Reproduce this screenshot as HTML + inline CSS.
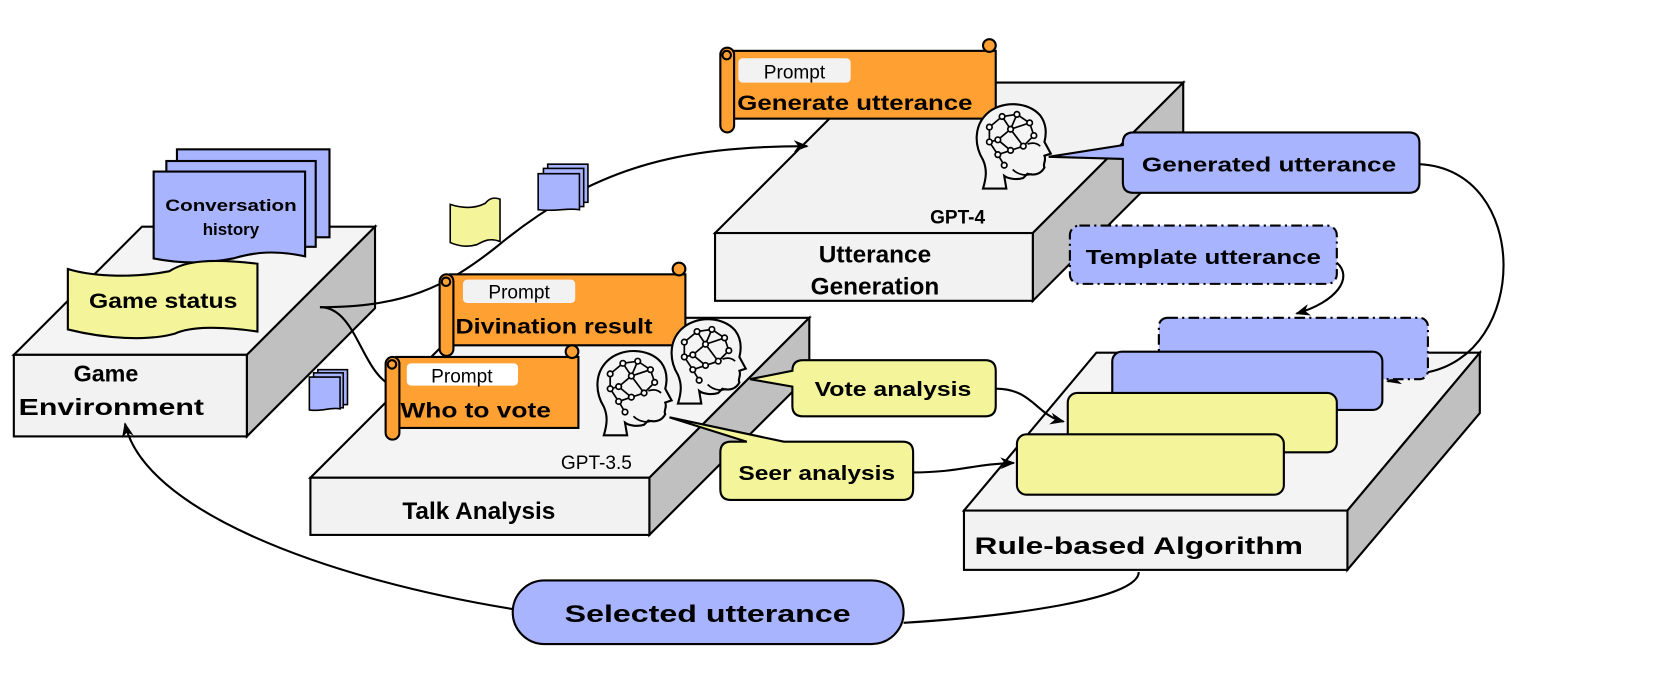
<!DOCTYPE html>
<html><head><meta charset="utf-8"><style>
html,body{margin:0;padding:0;background:#fff;}
svg{display:block;}
text{font-family:"Liberation Sans","DejaVu Sans",sans-serif;font-weight:bold;fill:#000;}
</style></head><body>
<svg width="1661" height="692" viewBox="0 0 1568 653.3" xmlns="http://www.w3.org/2000/svg">
<defs>
<marker id="ar" viewBox="0 0 10 10" refX="9" refY="5" markerWidth="14" markerHeight="14" orient="auto-start-reverse" markerUnits="userSpaceOnUse">
<path d="M0,1 L10,5 L0,9 L3,5 Z" fill="#000"/></marker>
<g id="head">
<path d="M8,80 C11,70 12,62 8,53 C0,40 -1,22 11,10 C24,-3 50,-3 62,11 C68,19 68,28 66,36 L72,47 L66,49 C68,54 64,57 66,60 C63,66 57,68 50,66 L46,70 C40,72 32,71 28,68 L30,80 Z" fill="#f4f4f4" stroke="#000" stroke-width="2"/>
<g stroke="#000" stroke-width="1.6" fill="#fff">
<path d="M14,22 L26,12 L40,10 L52,18 L56,30 L46,40 L34,44 L22,48 L14,36 Z M26,12 L34,24 L52,18 M34,24 L46,40 M34,24 L22,34 L14,36 M22,34 L34,44 M40,10 L34,24 M22,48 L28,58" fill="none"/>
<circle cx="14" cy="22" r="2.6"/><circle cx="26" cy="12" r="2.6"/><circle cx="40" cy="10" r="2.6"/><circle cx="52" cy="18" r="2.6"/><circle cx="56" cy="30" r="2.6"/><circle cx="46" cy="40" r="2.6"/><circle cx="34" cy="44" r="2.6"/><circle cx="22" cy="48" r="2.6"/><circle cx="14" cy="36" r="2.6"/><circle cx="34" cy="24" r="2.6"/><circle cx="22" cy="34" r="2.6"/><circle cx="28" cy="58" r="2.6"/>
</g>
<path d="M50,38 C56,36 60,38 62,40 M36,62 C42,68 50,68 54,66" fill="none" stroke="#000" stroke-width="1.6"/>
</g>
</defs>

<!-- Game Environment slab -->
<polygon points="134,214 354,214 233,335 13,335" fill="#f4f4f4" stroke="#000" stroke-width="2"/>
<polygon points="233,335 354,214 354,291 233,412" fill="#c0c0c0" stroke="#000" stroke-width="2"/>
<rect x="13" y="335" width="220" height="77" fill="#f2f2f2" stroke="#000" stroke-width="2"/>
<text x="100" y="360" font-size="22" text-anchor="middle">Game</text>
<text x="105" y="392" font-size="22" text-anchor="middle" textLength="175" lengthAdjust="spacingAndGlyphs">Environment</text>

<!-- Conversation history pages -->
<rect x="167" y="141" width="144" height="83" fill="#a9b4fe" stroke="#000" stroke-width="2"/>
<rect x="157" y="152" width="141" height="81" fill="#a9b4fe" stroke="#000" stroke-width="2"/>
<path d="M145,162 H288 V242 C260,236 240,238 220,244 C190,250 165,248 145,244 Z" fill="#a9b4fe" stroke="#000" stroke-width="2"/>
<text x="218" y="199" font-size="16" text-anchor="middle" textLength="124" lengthAdjust="spacingAndGlyphs">Conversation</text>
<text x="218" y="222" font-size="16" text-anchor="middle">history</text>
<!-- Game status -->
<path d="M64,254 C90,262 130,262 160,256 C175,246 200,244 243,249 V313 C210,308 180,308 165,315 C140,322 100,320 64,311 Z" fill="#f4f49a" stroke="#000" stroke-width="2"/>
<text x="154" y="291" font-size="20" text-anchor="middle" textLength="140" lengthAdjust="spacingAndGlyphs">Game status</text>

<!-- Utterance Generation slab -->
<polygon points="817,78 1117,78 975,220 675,220" fill="#f2f2f2" stroke="#000" stroke-width="2"/>
<polygon points="975,220 1117,78 1117,142 975,284" fill="#c0c0c0" stroke="#000" stroke-width="2"/>
<rect x="675" y="220" width="300" height="64" fill="#f2f2f2" stroke="#000" stroke-width="2"/>
<text x="826" y="248" font-size="23" text-anchor="middle">Utterance</text>
<text x="826" y="278" font-size="23" text-anchor="middle">Generation</text>
<text x="904" y="211" font-size="18" text-anchor="middle">GPT-4</text>

<!-- Talk Analysis slab -->
<polygon points="444,300 764,300 613,451 293,451" fill="#f4f4f4" stroke="#000" stroke-width="2"/>
<polygon points="613,451 764,300 764,354 613,505" fill="#c0c0c0" stroke="#000" stroke-width="2"/>
<rect x="293" y="451" width="320" height="54" fill="#f2f2f2" stroke="#000" stroke-width="2"/>
<text x="452" y="490" font-size="23" text-anchor="middle">Talk Analysis</text>
<text x="563" y="443" font-size="18" text-anchor="middle" style="font-weight:normal">GPT-3.5</text>

<!-- Rule-based slab -->
<polygon points="1035,333 1397,333 1272,482 910,482" fill="#f4f4f4" stroke="#000" stroke-width="2"/>
<polygon points="1272,482 1397,333 1397,390 1272,538" fill="#c0c0c0" stroke="#000" stroke-width="2"/>
<rect x="910" y="482" width="362" height="56" fill="#f2f2f2" stroke="#000" stroke-width="2"/>
<text x="1075" y="523" font-size="23" text-anchor="middle" textLength="310" lengthAdjust="spacingAndGlyphs">Rule-based Algorithm</text>

<!-- connectors behind -->
<g fill="none" stroke="#000" stroke-width="2">
<path d="M302,290 C380,290 420,272 470,232 C560,158 640,138 762,138" marker-end="url(#ar)"/>
<path d="M302,290 C335,290 340,345 366,362"/>
<path d="M484,575 C300,545 135,480 118,400" marker-end="url(#ar)"/>
<path d="M853,588 C950,582 1075,566 1075,540"/>
<path d="M1340,155 C1445,160 1445,335 1345,352 L1310,360" marker-end="url(#ar)"/>
<path d="M1262,248 C1278,262 1262,285 1224,296" marker-end="url(#ar)"/>
<path d="M940,367 C975,367 978,392 1004,398" marker-end="url(#ar)"/>
<path d="M862,446 C905,446 920,438 957,437" marker-end="url(#ar)"/>
</g>

<!-- Rule stacked boxes -->
<rect x="1094" y="300" width="254" height="58" rx="8" fill="#a9b4fe" stroke="#000" stroke-width="2" stroke-dasharray="10,4,2,4"/>
<rect x="1050" y="332" width="255" height="55" rx="9" fill="#a9b4fe" stroke="#000" stroke-width="2"/>
<rect x="1008" y="371" width="254" height="56" rx="9" fill="#f4f49a" stroke="#000" stroke-width="2"/>
<rect x="960" y="410" width="252" height="57" rx="9" fill="#f4f49a" stroke="#000" stroke-width="2"/>

<!-- small icons -->
<path d="M425,193 C440,198 450,196 458,192 C462,187 466,186 472,188 V228 C462,224 456,228 450,231 C440,234 432,232 425,229 Z" fill="#f4f49a" stroke="#000" stroke-width="1.5"/>
<rect x="517" y="155" width="38" height="36" fill="#a9b4fe" stroke="#000" stroke-width="1.5"/>
<rect x="513" y="159" width="38" height="36" fill="#a9b4fe" stroke="#000" stroke-width="1.5"/>
<path d="M508,164 H547 V198 C535,196 525,200 508,198 Z" fill="#a9b4fe" stroke="#000" stroke-width="1.5"/>
<rect x="300" y="349" width="28" height="33" fill="#a9b4fe" stroke="#000" stroke-width="1.5"/>
<rect x="296" y="352" width="28" height="33" fill="#a9b4fe" stroke="#000" stroke-width="1.5"/>
<path d="M292,356 H321 V386 C312,384 304,389 292,387 Z" fill="#a9b4fe" stroke="#000" stroke-width="1.5"/>

<!-- Scrolls -->
<g stroke="#000" stroke-width="2">
<rect x="690" y="48" width="250" height="64" fill="#ffa033"/>
<circle cx="934" cy="43" r="6" fill="#ffa033"/>
<rect x="680" y="45" width="13" height="80" rx="6.5" fill="#ffa033"/>
<circle cx="686" cy="52" r="4" fill="#ffa033"/>
<rect x="697" y="55" width="106" height="23" rx="4" fill="#f2f2f2" stroke="none"/>

<rect x="425" y="259" width="222" height="67" fill="#ffa033"/>
<circle cx="641" cy="254" r="6" fill="#ffa033"/>
<rect x="415" y="259" width="13" height="77" rx="6.5" fill="#ffa033"/>
<circle cx="421" cy="266" r="4" fill="#ffa033"/>
<rect x="437" y="264" width="106" height="22" rx="4" fill="#f2f2f2" stroke="none"/>

<rect x="374" y="337" width="172" height="67" fill="#ffa033"/>
<circle cx="540" cy="332" r="6" fill="#ffa033"/>
<rect x="364" y="337" width="13" height="78" rx="6.5" fill="#ffa033"/>
<circle cx="370" cy="344" r="4" fill="#ffa033"/>
<rect x="384" y="343" width="105" height="21" rx="4" fill="#fff" stroke="none"/>
</g>
<text x="750" y="74" font-size="18" text-anchor="middle" style="font-weight:normal">Prompt</text>
<text x="807" y="104" font-size="20" text-anchor="middle" textLength="222" lengthAdjust="spacingAndGlyphs">Generate utterance</text>
<text x="490" y="282" font-size="18" text-anchor="middle" style="font-weight:normal">Prompt</text>
<text x="523" y="315" font-size="20" text-anchor="middle" textLength="186" lengthAdjust="spacingAndGlyphs">Divination result</text>
<text x="436" y="361" font-size="18" text-anchor="middle" style="font-weight:normal">Prompt</text>
<text x="449" y="394" font-size="20" text-anchor="middle" textLength="142" lengthAdjust="spacingAndGlyphs">Who to vote</text>

<!-- Heads -->
<use href="#head" x="632" y="301"/>
<use href="#head" x="562" y="331"/>
<use href="#head" x="920" y="98"/>

<!-- Callouts -->
<path d="M1070,125 H1330 Q1340,125 1340,135 V172 Q1340,182 1330,182 H1070 Q1060,182 1060,172 V150 L990,148 L1060,137 V135 Q1060,125 1070,125 Z" fill="#a9b4fe" stroke="#000" stroke-width="2"/>
<text x="1198" y="162" font-size="19" text-anchor="middle" textLength="240" lengthAdjust="spacingAndGlyphs">Generated utterance</text>

<rect x="1010" y="213" width="252" height="55" rx="9" fill="#a9b4fe" stroke="#000" stroke-width="2" stroke-dasharray="10,4,2,4"/>
<text x="1136" y="249" font-size="19" text-anchor="middle" textLength="222" lengthAdjust="spacingAndGlyphs">Template utterance</text>

<path d="M758,340 H930 Q940,340 940,350 V383 Q940,393 930,393 H758 Q748,393 748,383 V365 L708,358 L748,350 Q748,340 758,340 Z" fill="#f4f49a" stroke="#000" stroke-width="2"/>
<text x="843" y="374" font-size="19" text-anchor="middle" textLength="148" lengthAdjust="spacingAndGlyphs">Vote analysis</text>

<path d="M740,417 H852 Q862,417 862,427 V462 Q862,472 852,472 H690 Q680,472 680,462 V427 Q680,417 690,417 H705 L632,394 Z" fill="#f4f49a" stroke="#000" stroke-width="2"/>
<text x="771" y="453" font-size="19" text-anchor="middle" textLength="148" lengthAdjust="spacingAndGlyphs">Seer analysis</text>

<!-- Selected utterance -->
<path d="M514,548 H823 A30,30 0 0 1 853,578 A30,30 0 0 1 823,608 H514 A30,30 0 0 1 484,578 A30,30 0 0 1 514,548 Z" fill="#a9b4fe" stroke="#000" stroke-width="2"/>
<text x="668" y="587" font-size="23" text-anchor="middle" textLength="270" lengthAdjust="spacingAndGlyphs">Selected utterance</text>
</svg>
</body></html>
